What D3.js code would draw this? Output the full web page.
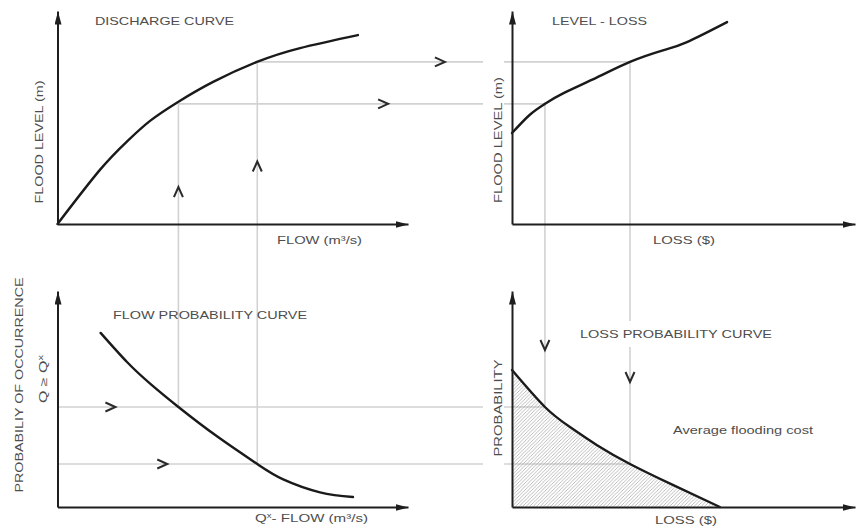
<!DOCTYPE html>
<html><head><meta charset="utf-8">
<script src="https://cdn.jsdelivr.net/npm/d3@7"></script>
<style>html,body{margin:0;padding:0;background:#fff;} svg{display:block;}</style>
</head><body><svg id="c" width="856" height="529"></svg>
<script>
// ---------- data (abstract units 0-100 along each axis) ----------
const dischargeFlow  = [0, 12.1, 19.8, 26.4, 34.4, 44.4, 56.9, 69.2, 85.7];
const dischargeLevel = [0, 25.4, 38.7, 48.4, 57.3, 66.7, 76.1, 82.6, 88.7];
const levelLossLoss  = [0, 5.2, 9.6, 14.9, 24.8, 34.4, 44.0, 51.0, 62.7];
const levelLossLevel = [42.7, 51.3, 56.4, 61.3, 68.8, 76.1, 81.5, 85.4, 94.8];
const flowProbFlow   = [12.3, 19.9, 26.5, 34.5, 45.6, 57.0, 64.4, 74.9, 84.3];
const flowProbProb   = [80.6, 67.0, 57.0, 46.3, 32.6, 19.9, 12.8, 6.8, 4.6];
const lossProbLoss   = [0, 9.6, 16.9, 24.8, 34.4, 46.1, 60.6];
const lossProbProb   = [63.4, 46.3, 37.0, 28.6, 19.9, 10.8, 0];
const guideFlow  = [34.5, 57.0];
const guideLevel = [56.4, 76.1];
const guideLoss  = [9.6, 34.4];
const guideProb  = [46.3, 19.9];
const upMarkLevel    = [15, 27];      // "^" on flow guides
const rightMarkFlow  = [92.9, 109.1]; // ">" on level guides
const rightMarkFlowB = [15.1, 29.9];  // ">" on probability guides
const downMarkProb   = [75, 60.2];    // "v" on loss guides
const panelTitles = ["DISCHARGE CURVE", "LEVEL - LOSS", "FLOW PROBABILITY CURVE", "LOSS PROBABILITY CURVE"];
const axisLabels = ["FLOW (m\u00B3/s)", "LOSS ($)", "FLOOD LEVEL (m)", "PROBABILIY OF OCCURRENCE", "PROBABILITY", "Average flooding cost"];

// ---------- scales ----------
const flowX  = d3.scaleLinear([0, 100], [57.5, 408]);
const levelY = d3.scaleLinear([0, 100], [224, 11]);
const lossX  = d3.scaleLinear([0, 100], [512, 855]);
const probY  = d3.scaleLinear([0, 100], [507, 291]);

const svg = d3.select("#c");
const defs = svg.append("defs");
defs.append("marker").attr("id", "arrow")
  .attr("markerUnits", "userSpaceOnUse").attr("viewBox", "0 0 13 7")
  .attr("refX", 13).attr("refY", 3.5).attr("markerWidth", 13).attr("markerHeight", 7)
  .attr("orient", "auto")
  .append("path").attr("d", "M0,0L13,3.5L0,7Z").attr("fill", "#1e1e1e");
const pat = defs.append("pattern").attr("id", "hatch").attr("patternUnits", "userSpaceOnUse")
  .attr("width", 3.5).attr("height", 3.5);
pat.append("path").attr("d", "M-1,1L1,-1M0,3.5L3.5,0M2.5,4.5L4.5,2.5")
  .attr("stroke", "#8f8f8f").attr("stroke-width", 0.6);

// ---------- guide lines ----------
const GC = "#d2d2d2", GW = 1.6;
const gGuide = svg.append("g").attr("stroke", GC).attr("stroke-width", GW);
function hLine(y, x1, x2) {
  const gap = [483, 504];
  const segs = (x1 < gap[0] && x2 > gap[1]) ? [[x1, gap[0]], [gap[1], x2]] : [[x1, x2]];
  segs.forEach(s => gGuide.append("line").attr("x1", s[0]).attr("x2", s[1]).attr("y1", y).attr("y2", y));
}
function vLine(x, y1, y2, gap) {
  const segs = gap ? [[y1, gap[0]], [gap[1], y2]] : [[y1, y2]];
  segs.forEach(s => gGuide.append("line").attr("x1", x).attr("x2", x).attr("y1", s[0]).attr("y2", s[1]));
}
guideFlow.forEach((f, i) => {
  vLine(flowX(f), levelY(guideLevel[i]), probY(guideProb[i]));
  hLine(levelY(guideLevel[i]), flowX(f), lossX(guideLoss[i]));
  vLine(lossX(guideLoss[i]), levelY(guideLevel[i]), probY(guideProb[i]), i === 1 ? [321, 347] : null);
  hLine(probY(guideProb[i]), flowX(0), lossX(guideLoss[i]));
});

// ---------- hatched area ----------
const lossProb = lossProbLoss.map((l, i) => [l, lossProbProb[i]]);
svg.append("path").datum(lossProb)
  .attr("d", d3.area().x(d => lossX(d[0])).y0(probY(0)).y1(d => probY(d[1])).curve(d3.curveNatural))
  .attr("fill", "url(#hatch)");

// ---------- curves ----------
const curveStyle = p => p.attr("fill", "none").attr("stroke", "#1a1a1a").attr("stroke-width", 2.4)
  .attr("stroke-linecap", "round");
function curve(xs, ys, sx, sy) {
  const pts = xs.map((x, i) => [x, ys[i]]);
  svg.append("path").datum(pts)
    .attr("d", d3.line().x(d => sx(d[0])).y(d => sy(d[1])).curve(d3.curveNatural))
    .call(curveStyle);
}
curve(dischargeFlow, dischargeLevel, flowX, levelY);
curve(levelLossLoss, levelLossLevel, lossX, levelY);
curve(flowProbFlow, flowProbProb, flowX, probY);
curve(lossProbLoss, lossProbProb, lossX, probY);

// ---------- axes ----------
function axes(sx, sy) {
  const gx = svg.append("g").attr("transform", `translate(0,${sy(0)})`)
    .call(d3.axisBottom(sx).tickValues([]).tickSizeOuter(0));
  gx.select(".domain").attr("stroke", "#1e1e1e").attr("stroke-width", 2).attr("marker-end", "url(#arrow)");
  const gy = svg.append("g").attr("transform", `translate(${sx(0)},0)`)
    .call(d3.axisLeft(sy).tickValues([]).tickSizeOuter(0));
  gy.select(".domain").attr("stroke", "#1e1e1e").attr("stroke-width", 2).attr("marker-end", "url(#arrow)");
}
axes(flowX, levelY);
axes(lossX, levelY);
axes(flowX, probY);
axes(lossX, probY);

// ---------- chevron markers ----------
function chevron(x, y, rot) {
  svg.append("path").attr("d", "M-4.5,5L0,-5L4.5,5")
    .attr("transform", `translate(${x},${y}) rotate(${rot})`)
    .attr("fill", "none").attr("stroke", "#2a2a2a").attr("stroke-width", 2)
    .attr("stroke-linejoin", "miter");
}
guideFlow.forEach((f, i) => chevron(flowX(f), levelY(upMarkLevel[i]), 0));
guideLevel.forEach((l, i) => chevron(flowX(rightMarkFlow[i]), levelY(l), 90));
guideProb.forEach((p, i) => chevron(flowX(rightMarkFlowB[i]), probY(p), 90));
guideLoss.forEach((l, i) => chevron(lossX(l), probY(downMarkProb[i]), 180));

// ---------- text ----------
const FONT = "'Liberation Sans', Arial, Helvetica, sans-serif";
function text(str, x, y, len, opts = {}) {
  const t = svg.append("text").attr("x", x).attr("y", y)
    .attr("font-family", FONT).attr("font-size", opts.size || 11)
    .attr("fill", "#4d4d4d").attr("text-anchor", opts.anchor || "start")
    .attr("textLength", len).attr("lengthAdjust", "spacingAndGlyphs");
  if (opts.rotate) t.attr("transform", `rotate(-90,${x},${y})`);
  if (opts.sup) {
    t.append("tspan").text(str);
    t.append("tspan").attr("font-size", 7).attr("dy", -4).text(opts.sup);
  } else if (opts.pre) {
    t.append("tspan").text(opts.pre[0]);
    t.append("tspan").attr("font-size", 7).attr("dy", -4).text(opts.pre[1]);
    t.append("tspan").attr("dy", 4).text(str);
  } else t.text(str);
  return t;
}
text(panelTitles[0], 95, 24.5, 139);
text(panelTitles[1], 552, 24.5, 95);
text(panelTitles[2], 113, 319, 194);
text(panelTitles[3], 580, 338, 192);
text(axisLabels[0], 277, 244, 85);
text(axisLabels[1], 653, 244, 62);
text("- FLOW (m\u00B3/s)", 255, 522, 113, { pre: ["Q", "x"] });
text(axisLabels[1], 655, 524, 62);
text(axisLabels[5], 673, 434, 140);
text(axisLabels[2], 43, 142, 123, { rotate: true, anchor: "middle" });
text(axisLabels[2], 502, 140, 126, { rotate: true, anchor: "middle" });
text(axisLabels[3], 23, 385, 215, { rotate: true, anchor: "middle" });
text("Q \u2265 Q", 47, 379, 48, { rotate: true, anchor: "middle", size: 10, sup: "x" });
text(axisLabels[4], 502, 408, 97, { rotate: true, anchor: "middle" });
</script></body></html>
